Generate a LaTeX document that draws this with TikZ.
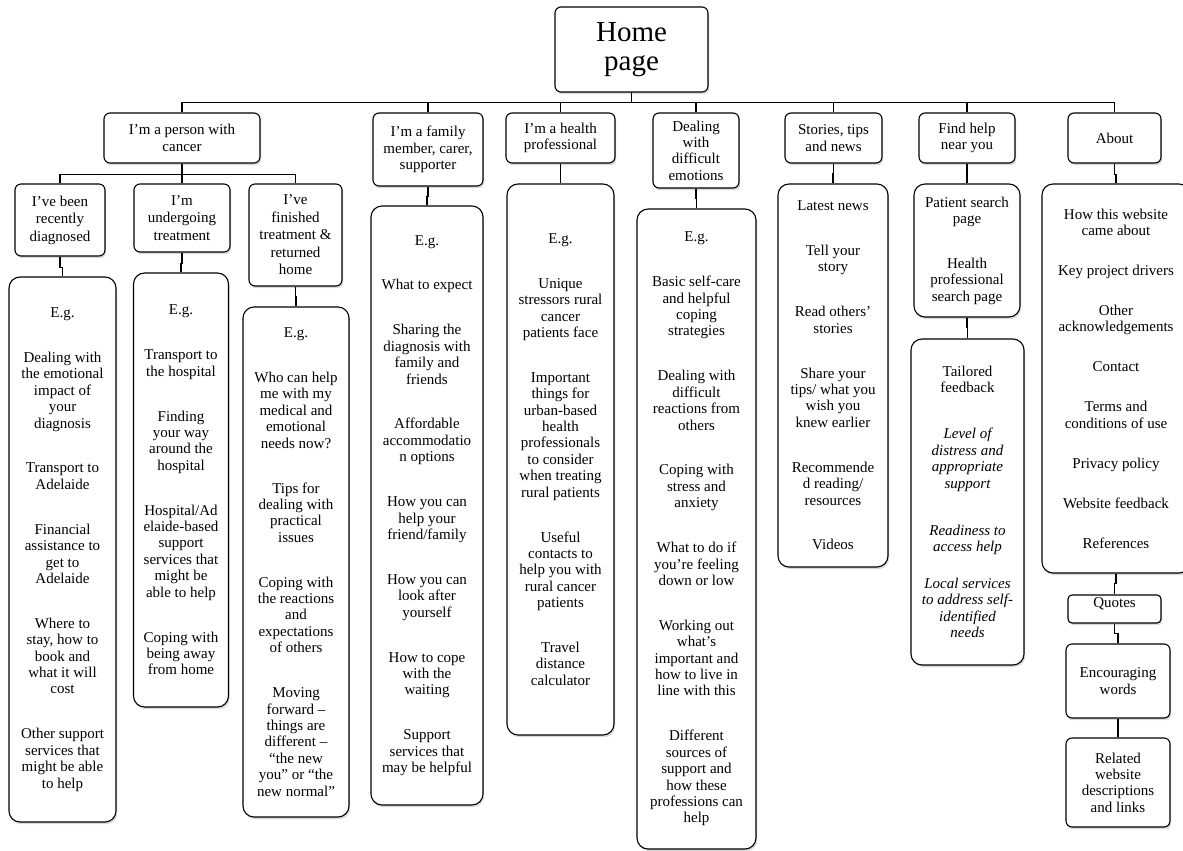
\documentclass[tikz,border=0pt]{standalone}
\usepackage{fontspec}
\setmainfont{Liberation Serif}
\usetikzlibrary{shadows}

\tikzset{
  box/.style={draw, line width=1.1pt, rounded corners=6pt, fill=white,
    align=center, inner sep=0pt,
    font=\fontsize{15}{16.4}\selectfont,
    drop shadow={shadow xshift=1.2pt, shadow yshift=-2.2pt, opacity=0.3}},
  subbox/.style={box, font=\fontsize{15}{17.5}\selectfont},
  listbox/.style={box, rounded corners=11pt},
  link/.style={line width=1.1pt}
}
\newcommand{\grp}{\\[28.5pt]}

\begin{document}
\begin{tikzpicture}[x=1pt, y=-1pt]
\useasboundingbox (0,0) rectangle (1183,851);

% root
\node[box, minimum width=153pt, minimum height=85pt, font=\fontsize{29}{29}\selectfont]
  (home) at (631.5,49.5) {Home\\page};

% first level
\node[box, minimum width=156pt, minimum height=50pt] (person) at (182,138) {I’m a person with\\cancer};
\node[box, minimum width=110pt, minimum height=73pt] (family) at (428,149.5) {I’m a family\\member, carer,\\supporter};
\node[box, minimum width=109pt, minimum height=50pt] (health) at (560.5,138) {I’m a health\\professional};
\node[box, minimum width=86pt, minimum height=75pt] (emotions) at (696,150.5) {Dealing\\with\\difficult\\emotions};
\node[box, minimum width=97pt, minimum height=50pt] (stories) at (833.5,138) {Stories, tips\\and news};
\node[box, minimum width=96pt, minimum height=50pt] (findhelp) at (967,138) {Find help\\near you};
\node[box, minimum width=93pt, minimum height=50pt] (about) at (1114.5,138) {About};

% second level under the person with cancer
\node[subbox, minimum width=90pt, minimum height=72pt] (diagnosed) at (60,220) {I’ve been\\recently\\diagnosed};
\node[subbox, minimum width=96pt, minimum height=68pt] (treatment) at (182,218) {I’m\\undergoing\\treatment};
\node[subbox, minimum width=93pt, minimum height=102pt] (finished) at (295.5,235) {I’ve\\finished\\treatment \&\\returned\\home};

% content lists
\node[listbox, minimum width=107pt, minimum height=545pt] (diagnosedlist) at (62.5,549.5) {%
  E.g.\grp
  Dealing with\\the emotional\\impact of\\your\\diagnosis\grp
  Transport to\\Adelaide\grp
  Financial\\assistance to\\get to\\Adelaide\grp
  Where to\\stay, how to\\book and\\what it will\\cost\grp
  Other support\\services that\\might be able\\to help};

\node[listbox, minimum width=95pt, minimum height=434pt] (treatmentlist) at (181,490) {%
  E.g.\grp
  Transport to\\the hospital\grp
  Finding\\your way\\around the\\hospital\grp
  Hospital/Ad\\elaide-based\\support\\services that\\might be\\able to help\grp
  Coping with\\being away\\from home};

\node[listbox, minimum width=106pt, minimum height=510pt] (finishedlist) at (296,562) {%
  E.g.\grp
  Who can help\\me with my\\medical and\\emotional\\needs now?\grp
  Tips for\\dealing with\\practical\\issues\grp
  Coping with\\the reactions\\and\\expectations\\of others\grp
  Moving\\forward –\\things are\\different –\\“the new\\you” or “the\\new normal”};

\node[listbox, minimum width=112pt, minimum height=599pt] (familylist) at (427,505.5) {%
  E.g.\grp
  What to expect\grp
  Sharing the\\diagnosis with\\family and\\friends\grp
  Affordable\\accommodatio\\n options\grp
  How you can\\help your\\friend/family\grp
  How you can\\look after\\yourself\grp
  How to cope\\with the\\waiting\grp
  Support\\services that\\may be helpful};

\node[listbox, minimum width=107pt, minimum height=551pt] (healthlist) at (560.5,459.5) {%
  E.g.\grp
  Unique\\stressors rural\\cancer\\patients face\grp
  Important\\things for\\urban-based\\health\\professionals\\to consider\\when treating\\rural patients\grp
  Useful\\contacts to\\help you with\\rural cancer\\patients\grp
  Travel\\distance\\calculator};

\node[listbox, minimum width=119pt, minimum height=640pt] (emotionslist) at (696.5,529) {%
  E.g.\grp
  Basic self-care\\and helpful\\coping\\strategies\grp
  Dealing with\\difficult\\reactions from\\others\grp
  Coping with\\stress and\\anxiety\grp
  What to do if\\you’re feeling\\down or low\grp
  Working out\\what’s\\important and\\how to live in\\line with this\grp
  Different\\sources of\\support and\\how these\\professions can\\help};

\node[listbox, minimum width=110pt, minimum height=383pt] (storieslist) at (833,375.5) {%
  Latest news\grp
  Tell your\\story\grp
  Read others’\\stories\grp
  Share your\\tips/ what you\\wish you\\knew earlier\grp
  Recommende\\d reading/\\resources\grp
  Videos};

\node[listbox, minimum width=106pt, minimum height=133pt] (searchlist) at (967,250.5) {%
  Patient search\\page\grp
  Health\\professional\\search page};

\node[listbox, minimum width=113pt, minimum height=326pt] (feedback) at (967.5,502) {%
  Tailored\\feedback\\[29.6pt]
  \itshape Level of\\\itshape distress and\\\itshape appropriate\\\itshape support\\[30.6pt]
  \itshape Readiness to\\\itshape access help\\[20.6pt]
  \itshape Local services\\\itshape to address self-\\\itshape identified\\\itshape needs};

\node[listbox, minimum width=148pt, minimum height=389pt] (aboutlist) at (1116,378.5) {%
  How this website\\came about\\[23.6pt]
  Key project drivers\\[23.6pt]
  Other\\acknowledgements\\[23.6pt]
  Contact\\[23.6pt]
  Terms and\\conditions of use\\[23.6pt]
  Privacy policy\\[23.6pt]
  Website feedback\\[23.6pt]
  References};

\node[box, rounded corners=4pt, minimum width=93pt, minimum height=28pt,
      text height=10pt, text depth=14pt] (quotes) at (1114.5,609) {Quotes};
\node[box, minimum width=104pt, minimum height=74pt] (encouraging) at (1118,681) {Encouraging\\words};
\node[box, minimum width=104pt, minimum height=89pt] (related) at (1118,782.5) {Related\\website\\descriptions\\and links};

% connectors from the home page
\foreach \n in {person, family, health, emotions, stories, findhelp, about}
  \draw[link] (home.south) -- ++(0,10) -| (\n.north);

% connectors under the person with cancer
\foreach \n in {diagnosed, treatment, finished}
  \draw[link] (person.south) -- ++(0,11) -| (\n.north);

\draw[link] (diagnosed.south) -- ++(0,11) -| (diagnosedlist.north);
\draw[link] (treatment.south) -- ++(0,11) -| (treatmentlist.north);
\draw[link] (finished.south) -- ++(0,10) -| (finishedlist.north);
\draw[link] (family.south) -- ++(0,10) -| (familylist.north);
\draw[link] (health.south) -- ++(0,10) -| (healthlist.north);
\draw[link] (emotions.south) -- ++(0,10) -| (emotionslist.north);
\draw[link] (stories.south) -- ++(0,10) -| (storieslist.north);
\draw[link] (findhelp.south) -- ++(0,10) -| (searchlist.north);
\draw[link] (searchlist.south) -- ++(0,10) -| (feedback.north);
\draw[link] (about.south) -- ++(0,11) -| (aboutlist.north);
\draw[link] (aboutlist.south) -- ++(0,10) -| (quotes.north);
\draw[link] (quotes.south) -- ++(0,10) -| (encouraging.north);
\draw[link] (encouraging.south) -- ++(0,10) -| (related.north);
\end{tikzpicture}
\end{document}
